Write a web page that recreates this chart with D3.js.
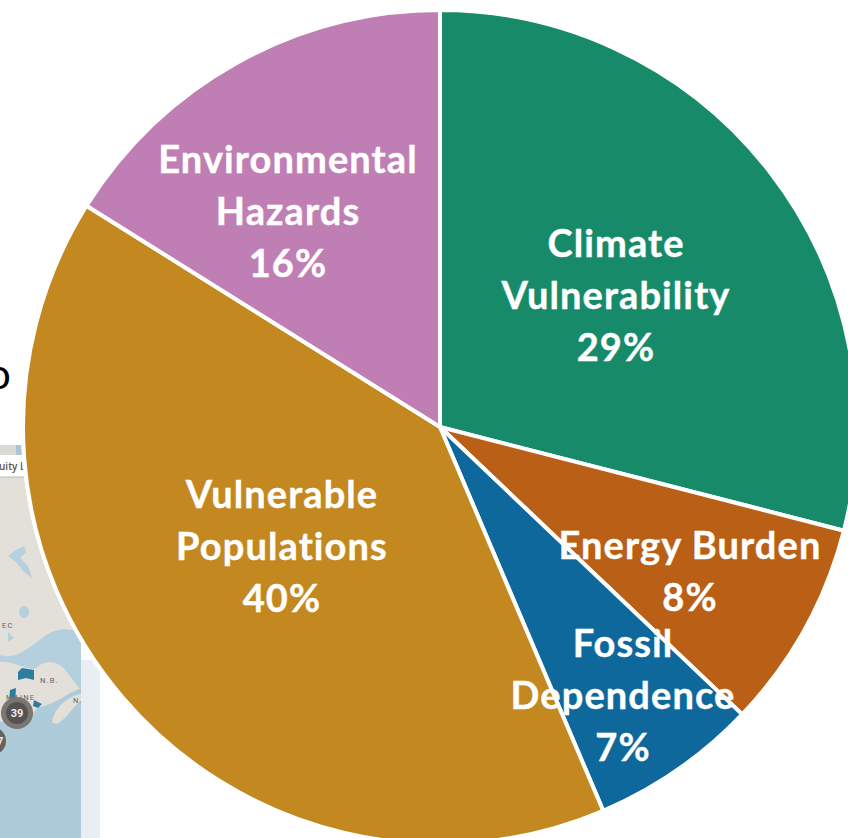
<!DOCTYPE html>
<html>
<head>
<meta charset="utf-8">
<script src="https://cdn.jsdelivr.net/npm/d3@7"></script>
<style>
    html, body { margin: 0; padding: 0; background: #fff; overflow: hidden; }
    svg { display: block; }
    .sliceLabel { font-family: Lato, "Open Sans", sans-serif; font-weight: 700; font-size: 38px; letter-spacing: 1.1px; fill: #fff; stroke: #fff; stroke-width: 0.4px; text-anchor: middle; }
</style>
</head>
<body>
<div id="chart"></div>
<script>
const categories = ["Climate Vulnerability", "Energy Burden", "Fossil Dependence", "Vulnerable Populations", "Environmental Hazards"];
const shares = [29.0, 8.1, 6.5, 40.3, 16.1];
const colors = ["#178b69", "#b95f16", "#0f689c", "#c38820", "#bf7fb4"];
const labelLines = [
    ["Climate", "Vulnerability", "29%"],
    ["Energy Burden", "8%"],
    ["Fossil", "Dependence", "7%"],
    ["Vulnerable", "Populations", "40%"],
    ["Environmental", "Hazards", "16%"]
];
// centre of each text block
const labelAnchors = [[616, 296], [690, 572], [623, 696], [282, 547], [288, 212]];

const width = 848, height = 838;
const cx = 440, cy = 427, radius = 417;

const svg = d3.select("#chart").append("svg")
    .attr("width", width)
    .attr("height", height);

function mapLabel(parent, x, y, str) {
    parent.append("text").attr("x", x).attr("y", y)
        .attr("font-family", "Roboto, sans-serif").attr("font-size", 7.5)
        .attr("letter-spacing", 1.2).attr("fill", "#666").text(str);
}

// bit of the slide behind the pie: cropped map screenshot and a cut off letter
function drawBackdrop() {
    const map = svg.append("g");
    map.append("rect").attr("x", 81).attr("y", 660).attr("width", 19).attr("height", 178).attr("fill", "#e8eef1");
    map.append("rect").attr("x", 0).attr("y", 445).attr("width", 16).attr("height", 10).attr("fill", "#d9d9d6");
    map.append("rect").attr("x", 16).attr("y", 445).attr("width", 6).attr("height", 10).attr("fill", "#a9c6d6");
    map.append("rect").attr("x", 0).attr("y", 477).attr("width", 81).attr("height", 361).attr("fill", "#e3dfd9");
    // gulf and river
    map.append("path")
        .attr("d", "M0,655 C15,660 25,650 40,640 C50,630 65,626 81,632 L81,690 C72,680 66,668 58,664 C50,660 42,662 36,668 C30,672 12,660 0,662 Z")
        .attr("fill", "#b4cfdd");
    // ocean
    map.append("path")
        .attr("d", "M0,722 L30,716 L38,708 L50,704 L62,698 L72,692 L81,688 L81,838 L0,838 Z")
        .attr("fill", "#aecbda");
    // nova scotia
    map.append("path")
        .attr("d", "M52,722 C54,708 68,696 81,694 L81,700 C72,708 64,722 56,724 Z")
        .attr("fill", "#e3dfd9");
    // inland lakes
    map.append("path")
        .attr("d", "M8,556 L16,550 L24,546 L26,552 L20,558 L28,566 L32,578 L24,572 L16,562 Z M24,606 a5,6 0 1 0 .1,0 Z M8,632 L14,638 L8,642 Z")
        .attr("fill", "#b5d0de");
    // highlighted areas
    map.append("path")
        .attr("d", "M18,672 L22,668 L34,670 L34,680 L26,678 L18,680 Z M10,690 L16,688 L15,704 L9,702 Z M34,700 L42,704 L38,708 L33,706 Z")
        .attr("fill", "#2f7d9e");
    map.append("rect").attr("x", 0).attr("y", 455).attr("width", 24).attr("height", 22).attr("fill", "#fff");
    map.append("line").attr("x1", 0).attr("x2", 24).attr("y1", 477).attr("y2", 477).attr("stroke", "#bbb");
    map.append("text").attr("x", -1).attr("y", 470)
        .attr("font-family", "Open Sans, sans-serif").attr("font-size", 10).attr("font-weight", 600).attr("fill", "#555")
        .text("uity L");
    mapLabel(map, 2, 628, "EC");
    mapLabel(map, 40, 683, "N.B.");
    mapLabel(map, 6, 700, "MAINE");
    mapLabel(map, 73, 703, "N.");
    map.append("circle").attr("cx", 17).attr("cy", 713).attr("r", 16).attr("fill", "#7a7773");
    map.append("circle").attr("cx", 17).attr("cy", 713).attr("r", 11).attr("fill", "#55524f");
    map.append("text").attr("x", 17).attr("y", 717).attr("text-anchor", "middle")
        .attr("font-family", "Roboto, sans-serif").attr("font-size", 11).attr("font-weight", 700).attr("fill", "#eee").text("39");
    map.append("circle").attr("cx", -8).attr("cy", 741).attr("r", 14).attr("fill", "#66635f");
    map.append("text").attr("x", -3).attr("y", 745)
        .attr("font-family", "Roboto, sans-serif").attr("font-size", 11).attr("font-weight", 700).attr("fill", "#eee").text("7");
    svg.append("text").attr("x", -13).attr("y", 389)
        .attr("font-family", "Lato, sans-serif").attr("font-size", 42).attr("fill", "#000").text("o");
}

drawBackdrop();

const pie = d3.pie().sort(null).value(d => d);
const arc = d3.arc().innerRadius(0).outerRadius(radius);
const g = svg.append("g").attr("transform", `translate(${cx},${cy})`);

// halo ring so the pie edge cuts the map with a white border
g.append("circle").attr("r", radius + 2).attr("fill", "#fff");

g.selectAll("path.slice")
    .data(pie(shares))
    .join("path")
    .attr("class", "slice")
    .attr("d", arc)
    .attr("fill", (d, i) => colors[i])
    .attr("stroke", "#fff")
    .attr("stroke-width", 4)
    .append("title")
    .text((d, i) => categories[i]);

const lineHeight = 52;
labelLines.forEach((lines, i) => {
    const [x, y] = labelAnchors[i];
    const text = svg.append("text").attr("class", "sliceLabel");
    lines.forEach((line, j) => {
        text.append("tspan")
            .attr("x", x)
            .attr("y", y + 13 + (j - (lines.length - 1) / 2) * lineHeight)
            .text(line);
    });
});
</script>
</body>
</html>
